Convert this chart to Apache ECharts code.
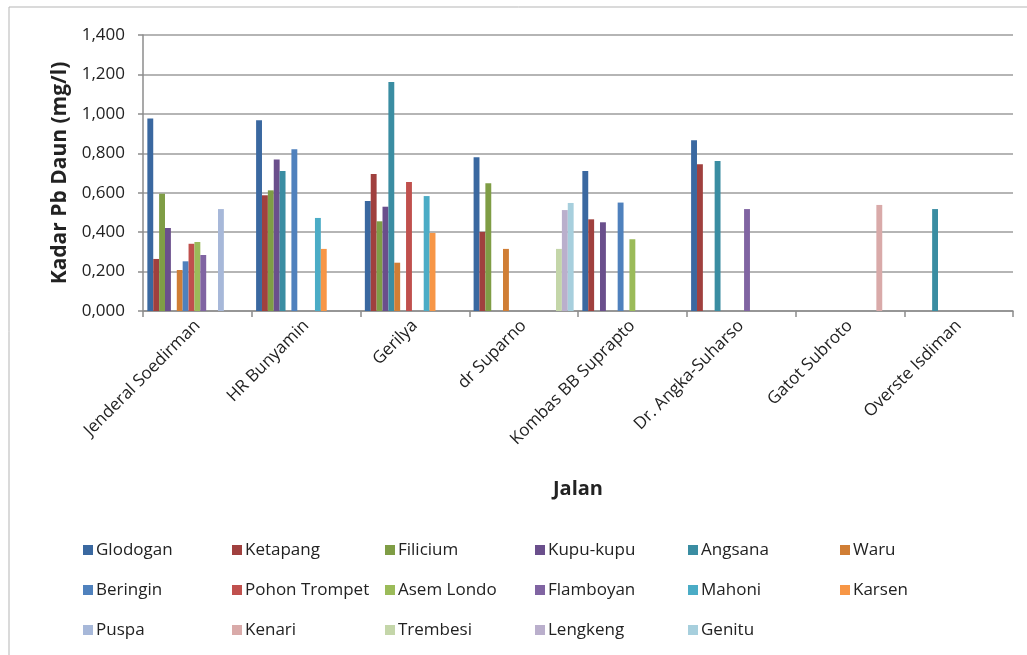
<!DOCTYPE html>
<html>
<head>
<meta charset="utf-8">
<script src="https://cdn.jsdelivr.net/npm/echarts@6/dist/echarts.min.js"></script>
<style>
  html, body { margin: 0; padding: 0; background: #fff; }
  #chart { width: 1027px; height: 655px; }
</style>
</head>
<body>
<div id="chart"></div>
<script>
// kategori jalan
var jalan = ['Jenderal Soedirman', 'HR Bunyamin', 'Gerilya', 'dr Suparno',
  'Kombas BB Suprapto', 'Dr. Angka-Suharso', 'Gatot Subroto', 'Overste Isdiman'];

// kadar Pb per jenis pohon (null = tidak ada)
var glodogan     = [0.976, 0.967, 0.558, 0.780, 0.710, 0.866, null, null];
var ketapang     = [0.264, 0.587, 0.695, 0.401, 0.465, 0.744, null, null];
var filicium     = [0.595, 0.612, 0.455, 0.648, null, null, null, null];
var kupuKupu     = [0.421, 0.768, 0.529, null, 0.450, null, null, null];
var angsana      = [null, 0.710, 1.162, null, null, 0.761, null, 0.517];
var waru         = [0.208, null, 0.245, 0.315, null, null, null, null];
var beringin     = [0.252, 0.820, null, null, 0.550, null, null, null];
var pohonTrompet = [0.341, null, 0.654, null, null, null, null, null];
var asemLondo    = [0.350, null, null, null, 0.364, null, null, null];
var flamboyan    = [0.284, null, null, null, null, 0.517, null, null];
var mahoni       = [null, 0.472, 0.583, null, null, null, null, null];
var karsen       = [null, 0.315, 0.396, null, null, null, null, null];
var puspa        = [0.517, null, null, null, null, null, null, null];
var kenari       = [null, null, null, null, null, null, 0.538, null];
var trembesi     = [null, null, null, 0.315, null, null, null, null];
var lengkeng     = [null, null, null, 0.512, null, null, null, null];
var genitu       = [null, null, null, 0.548, null, null, null, null];

var yTicks = [0, 0.2, 0.4, 0.6, 0.8, 1.0, 1.2, 1.4];

var seriesList = [
  ['Glodogan', glodogan, '#3A68A0'],
  ['Ketapang', ketapang, '#A0403E'],
  ['Filicium', filicium, '#7F9D45'],
  ['Kupu-kupu', kupuKupu, '#6A4F8C'],
  ['Angsana', angsana, '#3A8DA2'],
  ['Waru', waru, '#D07E35'],
  ['Beringin', beringin, '#4F81BD'],
  ['Pohon Trompet', pohonTrompet, '#C0504D'],
  ['Asem Londo', asemLondo, '#9BBB59'],
  ['Flamboyan', flamboyan, '#8064A2'],
  ['Mahoni', mahoni, '#4BACC6'],
  ['Karsen', karsen, '#F79646'],
  ['Puspa', puspa, '#A7B8D9'],
  ['Kenari', kenari, '#D9AAA9'],
  ['Trembesi', trembesi, '#C4D6A9'],
  ['Lengkeng', lengkeng, '#BAAFCC'],
  ['Genitu', genitu, '#A7CFDD']
];

var font = '"Open Sans", "Noto Sans", sans-serif';

var chart = echarts.init(document.getElementById('chart'), null, { renderer: 'canvas' });

var series = seriesList.map(function (s) {
  return {
    name: s[0],
    type: 'bar',
    data: s[1],
    itemStyle: { color: s[2] },
    barGap: '0%',
    barCategoryGap: '8%'
  };
});

// legenda: 6 kolom, tiap kolom vertikal (3 baris)
var names = seriesList.map(function (s) { return s[0]; });
var colLeft = [83, 232, 385, 535, 688, 840];
var legends = colLeft.map(function (x, j) {
  var col = [];
  for (var i = j; i < names.length; i += 6) col.push(names[i]);
  return {
    data: col,
    left: x,
    top: 541,
    padding: 0,
    orient: 'vertical',
    itemWidth: 10,
    itemHeight: 10,
    itemGap: 22,
    icon: 'rect',
    selectedMode: false,
    textStyle: { fontFamily: font, fontSize: 17, lineHeight: 18, color: '#222', padding: [0, 0, 0, -2] }
  };
});

var option = {
  animation: false,
  backgroundColor: '#fff',
  textStyle: { fontFamily: font },
  graphic: [{
    type: 'rect',
    shape: { x: 9, y: 7, width: 1040, height: 680 },
    style: { fill: 'none', stroke: '#b5b5b5', lineWidth: 1 },
    silent: true
  }],
  legend: legends,
  grid: { left: 143, right: 14, top: 35, bottom: 344, containLabel: false },
  xAxis: {
    type: 'category',
    data: jalan,
    name: 'Jalan',
    nameLocation: 'middle',
    nameGap: 168,
    nameTextStyle: { fontFamily: font, fontSize: 20, fontWeight: 'bold', color: '#222' },
    axisLine: { lineStyle: { color: '#8c8c8c', width: 1.5 } },
    axisTick: { show: true, length: 6, lineStyle: { color: '#8c8c8c', width: 1.5 } },
    axisLabel: { rotate: 45, fontSize: 17, color: '#222', margin: 12, fontFamily: font, interval: 0 }
  },
  yAxis: {
    type: 'value',
    min: 0,
    max: yTicks[yTicks.length - 1],
    interval: 0.2,
    name: 'Kadar Pb Daun (mg/l)',
    nameLocation: 'middle',
    nameGap: 72,
    nameTextStyle: { fontFamily: font, fontSize: 21, fontWeight: 'bold', color: '#222' },
    axisLine: { show: true, lineStyle: { color: '#8c8c8c', width: 1.5 } },
    axisTick: { show: true, length: 5, lineStyle: { color: '#8c8c8c', width: 1.5 } },
    axisLabel: {
      fontSize: 17, color: '#222', margin: 18, fontFamily: font,
      formatter: function (v) { return v.toFixed(3).replace('.', ','); }
    },
    splitLine: { lineStyle: { color: '#9c9c9c', width: 1.5 } }
  },
  series: series
};

chart.setOption(option);
</script>
</body>
</html>
